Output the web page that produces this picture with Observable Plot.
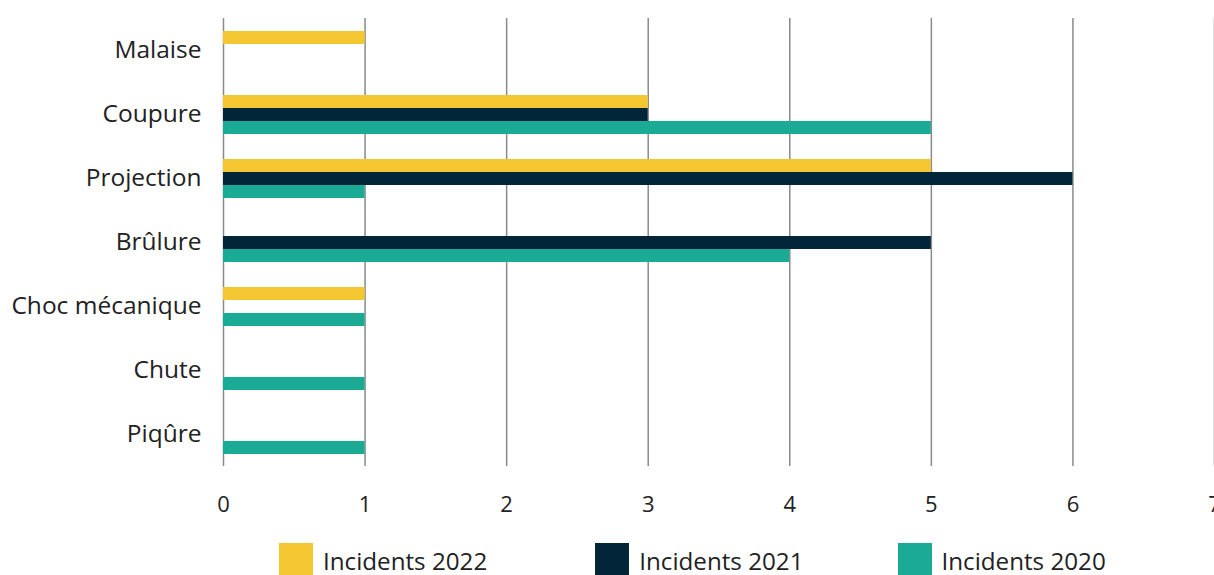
<!DOCTYPE html>
<html>
<head>
<meta charset="utf-8">
<script src="https://cdn.jsdelivr.net/npm/d3@7"></script>
<script src="https://cdn.jsdelivr.net/npm/@observablehq/plot@0.6"></script>
<style>
  html, body { margin: 0; padding: 0; background: #fff; overflow: hidden; }
  body { font-family: "Open Sans", Roboto, sans-serif; color: #222; }
  #legend { display: flex; align-items: flex-start; padding-left: 279px; margin-top: 13px; font-size: 24.2px; }
  .item { display: flex; align-items: flex-start; }
  .sw { width: 34px; height: 32px; margin-right: 10px; }
  .lbl { line-height: 32px; padding-top: 2px; white-space: nowrap; }
</style>
</head>
<body>
<div id="chart"></div>
<div id="legend"></div>
<script>
const categories = ["Malaise", "Coupure", "Projection", "Brûlure", "Choc mécanique", "Chute", "Piqûre"];
const series = ["Incidents 2022", "Incidents 2021", "Incidents 2020"];
const colors = ["#F4C631", "#02253A", "#1AAA96"];
const values2022 = [1, 3, 5, 0, 1, 0, 0];
const values2021 = [0, 3, 6, 5, 0, 0, 0];
const values2020 = [0, 5, 1, 4, 1, 1, 1];
const xTicks = [0, 1, 2, 3, 4, 5, 6, 7];

const allValues = [values2022, values2021, values2020];
const data = [];
categories.forEach((c, i) => {
  series.forEach((s, j) => data.push({category: c, series: s, value: allValues[j][i]}));
});

const plot = Plot.plot({
  width: 1214,
  height: 530,
  marginTop: 16,
  marginBottom: 63,
  marginLeft: 223,
  marginRight: 0,
  style: {fontFamily: "'Open Sans', sans-serif", fontSize: "22px", color: "#222", background: "#fff"},
  x: {domain: [0, 7], ticks: xTicks, tickSize: 0, tickPadding: 30, label: null, tickFormat: d3.format("d")},
  fy: {domain: categories, padding: 0, label: null, axis: null},
  y: {domain: series, paddingInner: 0, paddingOuter: 0.88, axis: null},
  color: {domain: series, range: colors},
  marks: [
    Plot.gridX(xTicks, {stroke: "#8a8a8a", strokeOpacity: 1, strokeWidth: 1.5}),
    Plot.barX(data, {fy: "category", y: "series", x: "value", fill: "series", inset: 0}),
    Plot.axisFy({anchor: "left", tickSize: 0, tickPadding: 22, fontSize: 24.5, label: null})
  ]
});
document.getElementById("chart").appendChild(plot);

const legend = document.getElementById("legend");
const gaps = [108, 94, 0];
series.forEach((s, i) => {
  const item = document.createElement("div");
  item.className = "item";
  item.style.marginRight = gaps[i] + "px";
  const sw = document.createElement("div");
  sw.className = "sw";
  sw.style.background = colors[i];
  const lbl = document.createElement("div");
  lbl.className = "lbl";
  lbl.textContent = s;
  item.appendChild(sw);
  item.appendChild(lbl);
  legend.appendChild(item);
});
</script>
</body>
</html>
